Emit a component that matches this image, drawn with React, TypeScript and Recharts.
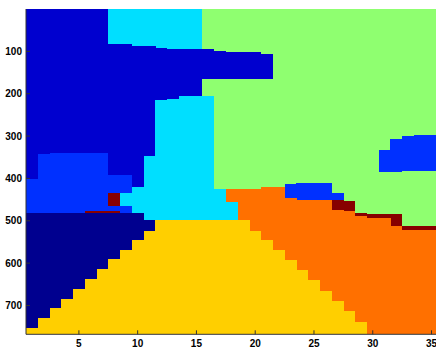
import { BarChart, Bar, Cell, XAxis, YAxis } from "recharts";

// label map, read column by column (x = 1..35), each run is [class, row where it ends]
const columns = [1, 2, 3, 4, 5, 6, 7, 8, 9, 10, 11, 12, 13, 14, 15, 16, 17, 18, 19, 20, 21, 22, 23, 24, 25, 26, 27, 28, 29, 30, 31, 32, 33, 34, 35];

const columnRuns: [string, number][][] = [
  [["B", 401], ["L", 481], ["N", 754], ["Y", 768]],
  [["B", 343], ["L", 481], ["N", 730], ["Y", 768]],
  [["B", 339], ["L", 481], ["N", 707], ["Y", 768]],
  [["B", 339], ["L", 481], ["N", 685], ["Y", 768]],
  [["B", 339], ["L", 481], ["N", 662], ["Y", 768]],
  [["B", 339], ["L", 477], ["R", 481], ["N", 638], ["Y", 768]],
  [["B", 341], ["L", 477], ["R", 481], ["N", 615], ["Y", 768]],
  [["C", 82], ["B", 391], ["L", 434], ["R", 466], ["L", 477], ["R", 481], ["N", 590], ["Y", 768]],
  [["C", 82], ["B", 391], ["L", 434], ["C", 466], ["L", 481], ["N", 568], ["Y", 768]],
  [["C", 87], ["B", 420], ["C", 481], ["N", 546], ["Y", 768]],
  [["C", 87], ["B", 346], ["C", 497], ["N", 523], ["Y", 768]],
  [["C", 91], ["B", 216], ["C", 497], ["Y", 768]],
  [["C", 94], ["B", 212], ["C", 497], ["Y", 768]],
  [["C", 95], ["B", 206], ["C", 497], ["Y", 768]],
  [["C", 95], ["B", 206], ["C", 497], ["Y", 768]],
  [["G", 95], ["B", 165], ["G", 206], ["C", 497], ["Y", 768]],
  [["G", 98], ["B", 165], ["G", 424], ["C", 497], ["Y", 768]],
  [["G", 101], ["B", 165], ["G", 424], ["O", 456], ["C", 497], ["Y", 768]],
  [["G", 102], ["B", 165], ["G", 424], ["O", 497], ["Y", 768]],
  [["G", 102], ["B", 165], ["G", 424], ["O", 523], ["Y", 768]],
  [["G", 106], ["B", 165], ["G", 420], ["O", 546], ["Y", 768]],
  [["G", 420], ["O", 569], ["Y", 768]],
  [["G", 412], ["L", 446], ["O", 593], ["Y", 768]],
  [["G", 411], ["L", 450], ["O", 616], ["Y", 768]],
  [["G", 411], ["L", 450], ["O", 640], ["Y", 768]],
  [["G", 411], ["L", 450], ["O", 665], ["Y", 768]],
  [["G", 434], ["L", 452], ["R", 474], ["O", 689], ["Y", 768]],
  [["G", 454], ["R", 477], ["O", 712], ["Y", 768]],
  [["G", 481], ["R", 488], ["O", 738], ["Y", 768]],
  [["G", 485], ["R", 493], ["O", 768]],
  [["G", 334], ["L", 386], ["G", 485], ["R", 493], ["O", 768]],
  [["G", 307], ["L", 386], ["G", 485], ["R", 513], ["O", 768]],
  [["G", 301], ["L", 383], ["G", 513], ["R", 521], ["O", 768]],
  [["G", 298], ["L", 383], ["G", 513], ["R", 521], ["O", 768]],
  [["G", 298], ["L", 383], ["G", 513], ["R", 521], ["O", 768]],
];

// jet-like class colours
const palette: Record<string, string> = {
  N: "#00008F",
  B: "#0000CF",
  L: "#0030FF",
  C: "#00DFFF",
  G: "#8FFF70",
  Y: "#FFCF00",
  O: "#FF7000",
  R: "#870000",
};

const xTicks = [5, 10, 15, 20, 25, 30, 35];
const yTicks = [100, 200, 300, 400, 500, 600, 700];

const maxRuns = Math.max(...columnRuns.map((r) => r.length));

const data = columns.map((col, i) => {
  const row: Record<string, number | string> = { col };
  let prev = 0;
  columnRuns[i].forEach(([cls, end], k) => {
    row[`s${k}`] = end - prev;
    row[`c${k}`] = palette[cls];
    prev = end;
  });
  return row;
});

const AXIS = "#333";
const font = { fontFamily: "Liberation Sans, Arial, sans-serif", fontSize: 10, fontWeight: 700, fill: "#000" };

const BottomTick = ({ x, y, payload }: any) => (
  <g>
    <line x1={x} y1={y} x2={x} y2={y - 4} stroke={AXIS} />
    <text x={x} y={y + 12.5} textAnchor="middle" {...font}>
      {payload.value}
    </text>
  </g>
);

const TopTick = ({ x, y }: any) => <line x1={x} y1={y} x2={x} y2={y + 4} stroke={AXIS} />;

const LeftTick = ({ x, y, payload }: any) => (
  <g>
    <line x1={x} y1={y} x2={x + 4} y2={y} stroke={AXIS} />
    <text x={x - 4} y={y + 3.5} textAnchor="end" {...font}>
      {payload.value}
    </text>
  </g>
);

const RightTick = ({ x, y }: any) => <line x1={x} y1={y} x2={x - 4} y2={y} stroke={AXIS} />;

export default function App() {
  return (
    <div
      style={{ position: "fixed", left: 0, top: 0, width: 436, height: 349, overflow: "hidden", background: "#fff" }}
    >
      <BarChart
        width={440}
        height={349}
        data={data}
        margin={{ top: 9, right: 2.6, bottom: 0, left: 0 }}
        barCategoryGap={0}
        barGap={0}
      >
        <XAxis
          dataKey="col"
          type="number"
          domain={[0.5, 35.5]}
          ticks={xTicks}
          height={14.7}
          tickSize={0}
          tickMargin={0}
          tickLine={false}
          stroke={AXIS}
          tick={<BottomTick />}
          allowDataOverflow
        />
        <XAxis
          xAxisId="top"
          orientation="top"
          dataKey="col"
          type="number"
          domain={[0.5, 35.5]}
          ticks={xTicks}
          height={0}
          tickSize={0}
          tickMargin={0}
          tickLine={false}
          stroke={AXIS}
          tick={<TopTick />}
          allowDataOverflow
        />
        <YAxis
          type="number"
          domain={[0, 768]}
          reversed
          ticks={yTicks}
          width={26}
          tickSize={0}
          tickMargin={0}
          tickLine={false}
          stroke={AXIS}
          tick={<LeftTick />}
          allowDataOverflow
        />
        <YAxis
          yAxisId="right"
          orientation="right"
          type="number"
          domain={[0, 768]}
          reversed
          ticks={yTicks}
          width={0}
          tickSize={0}
          tickMargin={0}
          tickLine={false}
          stroke={AXIS}
          tick={<RightTick />}
          allowDataOverflow
        />
        {Array.from({ length: maxRuns }, (_, k) => (
          <Bar key={k} dataKey={`s${k}`} stackId="map" isAnimationActive={false}>
            {data.map((d, i) => (
              <Cell key={i} fill={(d[`c${k}`] as string) ?? "none"} stroke="none" shapeRendering="crispEdges" />
            ))}
          </Bar>
        ))}
      </BarChart>
    </div>
  );
}
